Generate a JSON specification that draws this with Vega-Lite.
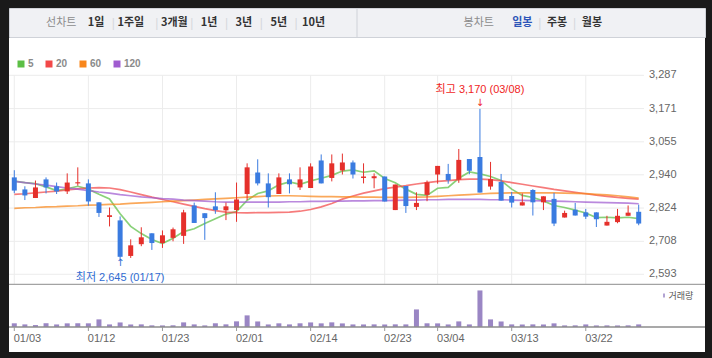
{
  "$schema": "https://vega.github.io/schema/vega-lite/v6.json",
  "background": "#1a1a1a",
  "padding": {"left": 8, "top": 7, "right": 8, "bottom": 8},
  "spacing": 0,
  "config": {"view": {"stroke": null}, "scale": {"continuousPadding": 0}},
  "datasets": {
    "days": [
      {"i":0,"d":"01/03","o":2931,"h":2956,"l":2876,"c":2885,"v":148000,"ma5":2918,"ma20":2872,"ma60":2823,"ma120":2917},
      {"i":1,"d":"01/04","o":2889,"h":2900,"l":2852,"c":2868,"v":104000,"ma5":2913,"ma20":2874,"ma60":2825,"ma120":2913},
      {"i":2,"d":"01/05","o":2859,"h":2920,"l":2859,"c":2896,"v":78000,"ma5":2909,"ma20":2877,"ma60":2826,"ma120":2908},
      {"i":3,"d":"01/08","o":2924,"h":2931,"l":2875,"c":2896,"v":151000,"ma5":2898,"ma20":2880,"ma60":2828,"ma120":2904},
      {"i":4,"d":"01/09","o":2900,"h":2913,"l":2873,"c":2882,"v":102000,"ma5":2885,"ma20":2883,"ma60":2829,"ma120":2899},
      {"i":5,"d":"01/10","o":2882,"h":2945,"l":2873,"c":2913,"v":146000,"ma5":2891,"ma20":2887,"ma60":2831,"ma120":2894},
      {"i":6,"d":"01/11","o":2910,"h":2966,"l":2902,"c":2914,"v":150000,"ma5":2900,"ma20":2891,"ma60":2832,"ma120":2890},
      {"i":7,"d":"01/12","o":2910,"h":2924,"l":2832,"c":2847,"v":147000,"ma5":2890,"ma20":2894,"ma60":2834,"ma120":2885},
      {"i":8,"d":"01/15","o":2844,"h":2844,"l":2793,"c":2807,"v":305000,"ma5":2872,"ma20":2895,"ma60":2835,"ma120":2880},
      {"i":9,"d":"01/16","o":2793,"h":2826,"l":2760,"c":2799,"v":103000,"ma5":2856,"ma20":2894,"ma60":2837,"ma120":2876},
      {"i":10,"d":"01/17","o":2781,"h":2795,"l":2645,"c":2654,"v":182000,"ma5":2804,"ma20":2888,"ma60":2838,"ma120":2871},
      {"i":11,"d":"01/18","o":2657,"h":2715,"l":2650,"c":2694,"v":101000,"ma5":2760,"ma20":2880,"ma60":2840,"ma120":2867},
      {"i":12,"d":"01/19","o":2698,"h":2757,"l":2691,"c":2722,"v":105000,"ma5":2735,"ma20":2871,"ma60":2842,"ma120":2863},
      {"i":13,"d":"01/22","o":2736,"h":2736,"l":2678,"c":2702,"v":66000,"ma5":2714,"ma20":2862,"ma60":2844,"ma120":2860},
      {"i":14,"d":"01/23","o":2702,"h":2746,"l":2685,"c":2729,"v":63000,"ma5":2700,"ma20":2854,"ma60":2846,"ma120":2857},
      {"i":15,"d":"01/24","o":2720,"h":2756,"l":2708,"c":2750,"v":68000,"ma5":2719,"ma20":2846,"ma60":2848,"ma120":2855},
      {"i":16,"d":"01/25","o":2727,"h":2818,"l":2699,"c":2809,"v":185000,"ma5":2742,"ma20":2838,"ma60":2850,"ma120":2852},
      {"i":17,"d":"01/26","o":2833,"h":2843,"l":2772,"c":2772,"v":104000,"ma5":2752,"ma20":2830,"ma60":2852,"ma120":2850},
      {"i":18,"d":"01/29","o":2806,"h":2806,"l":2713,"c":2789,"v":64000,"ma5":2770,"ma20":2822,"ma60":2854,"ma120":2848},
      {"i":19,"d":"01/30","o":2830,"h":2879,"l":2804,"c":2817,"v":149000,"ma5":2787,"ma20":2815,"ma60":2856,"ma120":2846},
      {"i":20,"d":"01/31","o":2816,"h":2843,"l":2782,"c":2830,"v":106000,"ma5":2803,"ma20":2810,"ma60":2858,"ma120":2845},
      {"i":21,"d":"02/01","o":2817,"h":2913,"l":2776,"c":2854,"v":226000,"ma5":2812,"ma20":2808,"ma60":2860,"ma120":2845},
      {"i":22,"d":"02/02","o":2873,"h":2980,"l":2852,"c":2966,"v":465000,"ma5":2851,"ma20":2807,"ma60":2862,"ma120":2845},
      {"i":23,"d":"02/05","o":2948,"h":2994,"l":2903,"c":2910,"v":222000,"ma5":2875,"ma20":2808,"ma60":2864,"ma120":2845},
      {"i":24,"d":"02/06","o":2910,"h":2945,"l":2826,"c":2862,"v":102000,"ma5":2884,"ma20":2808,"ma60":2866,"ma120":2845},
      {"i":25,"d":"02/07","o":2873,"h":2945,"l":2873,"c":2931,"v":147000,"ma5":2905,"ma20":2809,"ma60":2867,"ma120":2845},
      {"i":26,"d":"02/08","o":2924,"h":2945,"l":2875,"c":2907,"v":104000,"ma5":2915,"ma20":2810,"ma60":2867,"ma120":2846},
      {"i":27,"d":"02/13","o":2896,"h":2966,"l":2887,"c":2924,"v":148000,"ma5":2907,"ma20":2813,"ma60":2866,"ma120":2846},
      {"i":28,"d":"02/14","o":2894,"h":2980,"l":2894,"c":2969,"v":183000,"ma5":2919,"ma20":2819,"ma60":2865,"ma120":2847},
      {"i":29,"d":"02/15","o":2990,"h":3011,"l":2910,"c":2910,"v":146000,"ma5":2928,"ma20":2828,"ma60":2864,"ma120":2847},
      {"i":30,"d":"02/16","o":2929,"h":3011,"l":2917,"c":2980,"v":186000,"ma5":2938,"ma20":2840,"ma60":2864,"ma120":2848},
      {"i":31,"d":"02/19","o":2955,"h":3014,"l":2941,"c":2983,"v":144000,"ma5":2953,"ma20":2855,"ma60":2863,"ma120":2848},
      {"i":32,"d":"02/20","o":2983,"h":2990,"l":2927,"c":2941,"v":103000,"ma5":2957,"ma20":2866,"ma60":2863,"ma120":2849},
      {"i":33,"d":"02/21","o":2929,"h":2980,"l":2910,"c":2934,"v":102000,"ma5":2949,"ma20":2876,"ma60":2862,"ma120":2849},
      {"i":34,"d":"02/22","o":2928,"h":2945,"l":2893,"c":2935,"v":105000,"ma5":2954,"ma20":2884,"ma60":2862,"ma120":2850},
      {"i":35,"d":"02/23","o":2934,"h":2934,"l":2847,"c":2847,"v":101000,"ma5":2927,"ma20":2892,"ma60":2861,"ma120":2850},
      {"i":36,"d":"02/26","o":2817,"h":2906,"l":2817,"c":2906,"v":106000,"ma5":2912,"ma20":2897,"ma60":2861,"ma120":2851},
      {"i":37,"d":"02/27","o":2901,"h":2901,"l":2807,"c":2831,"v":104000,"ma5":2890,"ma20":2902,"ma60":2861,"ma120":2852},
      {"i":38,"d":"02/28","o":2828,"h":2879,"l":2817,"c":2842,"v":703000,"ma5":2872,"ma20":2908,"ma60":2862,"ma120":2852},
      {"i":39,"d":"02/29","o":2870,"h":2920,"l":2848,"c":2914,"v":148000,"ma5":2868,"ma20":2913,"ma60":2863,"ma120":2853},
      {"i":40,"d":"03/04","o":2941,"h":2971,"l":2909,"c":2971,"v":145000,"ma5":2893,"ma20":2917,"ma60":2865,"ma120":2853},
      {"i":41,"d":"03/05","o":2943,"h":2978,"l":2909,"c":2921,"v":102000,"ma5":2896,"ma20":2920,"ma60":2867,"ma120":2854},
      {"i":42,"d":"03/06","o":2923,"h":3030,"l":2912,"c":2992,"v":224000,"ma5":2928,"ma20":2923,"ma60":2869,"ma120":2854},
      {"i":43,"d":"03/07","o":2995,"h":2995,"l":2942,"c":2954,"v":103000,"ma5":2950,"ma20":2925,"ma60":2871,"ma120":2854},
      {"i":44,"d":"03/08","o":3002,"h":3170,"l":2878,"c":2878,"v":1462000,"ma5":2943,"ma20":2925,"ma60":2873,"ma120":2854},
      {"i":45,"d":"03/11","o":2899,"h":2985,"l":2888,"c":2925,"v":304000,"ma5":2934,"ma20":2923,"ma60":2875,"ma120":2853},
      {"i":46,"d":"03/12","o":2915,"h":2943,"l":2850,"c":2850,"v":221000,"ma5":2920,"ma20":2919,"ma60":2876,"ma120":2853},
      {"i":47,"d":"03/13","o":2866,"h":2880,"l":2826,"c":2843,"v":104000,"ma5":2890,"ma20":2913,"ma60":2877,"ma120":2852},
      {"i":48,"d":"03/14","o":2833,"h":2875,"l":2833,"c":2844,"v":102000,"ma5":2868,"ma20":2907,"ma60":2877,"ma120":2851},
      {"i":49,"d":"03/15","o":2887,"h":2890,"l":2798,"c":2844,"v":105000,"ma5":2861,"ma20":2901,"ma60":2877,"ma120":2850},
      {"i":50,"d":"03/18","o":2844,"h":2865,"l":2817,"c":2865,"v":101000,"ma5":2849,"ma20":2895,"ma60":2877,"ma120":2849},
      {"i":51,"d":"03/19","o":2856,"h":2877,"l":2761,"c":2770,"v":146000,"ma5":2833,"ma20":2889,"ma60":2877,"ma120":2848},
      {"i":52,"d":"03/20","o":2791,"h":2815,"l":2791,"c":2807,"v":64000,"ma5":2826,"ma20":2884,"ma60":2876,"ma120":2847},
      {"i":53,"d":"03/21","o":2818,"h":2842,"l":2798,"c":2798,"v":66000,"ma5":2817,"ma20":2879,"ma60":2875,"ma120":2846},
      {"i":54,"d":"03/22","o":2809,"h":2821,"l":2786,"c":2794,"v":103000,"ma5":2807,"ma20":2874,"ma60":2874,"ma120":2845},
      {"i":55,"d":"03/25","o":2809,"h":2809,"l":2758,"c":2785,"v":63000,"ma5":2791,"ma20":2869,"ma60":2872,"ma120":2844},
      {"i":56,"d":"03/26","o":2763,"h":2797,"l":2763,"c":2776,"v":65000,"ma5":2792,"ma20":2865,"ma60":2870,"ma120":2843},
      {"i":57,"d":"03/27","o":2775,"h":2821,"l":2771,"c":2797,"v":62000,"ma5":2790,"ma20":2861,"ma60":2867,"ma120":2842},
      {"i":58,"d":"03/28","o":2797,"h":2833,"l":2797,"c":2808,"v":66000,"ma5":2792,"ma20":2858,"ma60":2863,"ma120":2841},
      {"i":59,"d":"03/29","o":2811,"h":2836,"l":2764,"c":2770,"v":104000,"ma5":2787,"ma20":2855,"ma60":2859,"ma120":2839}
    ],
    "levels": [{"p":2593},{"p":2708},{"p":2824},{"p":2940},{"p":3055},{"p":3171},{"p":3287}],
    "notes": [
      {"i":44,"p":3170,"label":"최고 3,170 (03/08)","kind":"hi"},
      {"i":10,"p":2645,"label":"최저 2,645 (01/17)","kind":"lo"}
    ],
    "tools": [
      {"k":"선차트","t":"선차트","s":"muted"},
      {"k":"1일","t":"1일","s":"bold"},
      {"k":"s1","t":"|","s":"sep"},
      {"k":"1주일","t":"1주일","s":"bold"},
      {"k":"s2","t":"|","s":"sep"},
      {"k":"3개월","t":"3개월","s":"bold"},
      {"k":"s3","t":"|","s":"sep"},
      {"k":"1년","t":"1년","s":"bold"},
      {"k":"s4","t":"|","s":"sep"},
      {"k":"3년","t":"3년","s":"bold"},
      {"k":"s5","t":"|","s":"sep"},
      {"k":"5년","t":"5년","s":"bold"},
      {"k":"s6","t":"|","s":"sep"},
      {"k":"10년","t":"10년","s":"bold"},
      {"k":"div","t":"","s":"div"},
      {"k":"봉차트","t":"봉차트","s":"muted"},
      {"k":"일봉","t":"일봉","s":"sel"},
      {"k":"s7","t":"|","s":"sep"},
      {"k":"주봉","t":"주봉","s":"bold"},
      {"k":"s8","t":"|","s":"sep"},
      {"k":"월봉","t":"월봉","s":"bold"}
    ]
  },
  "vconcat": [
    {
      "width": 696,
      "height": 29,
      "view": {"fill": "#f0f1f4", "stroke": "#cfd2d8"},
      "data": {"name": "tools"},
      "encoding": {
        "x": {"field": "k", "type": "nominal", "axis": null,
          "scale": {"type": "point", "padding": 0, "domain": ["_0","_1","_2","_3","_4","_5","선차트","_7","_8","_9","1일","_11","s1","_13","1주일","_15","_16","s2","_18","3개월","_20","s3","_22","1년","_24","s4","_26","3년","_28","s5","_30","5년","_32","s6","_34","10년","_36","_37","_38","_39","div","_41","_42","_43","_44","_45","_46","_47","_48","_49","_50","_51","_52","_53","봉차트","_55","_56","_57","_58","일봉","_60","s7","_62","주봉","_64","s8","_66","월봉","_68","_69","_70","_71","_72","_73","_74","_75","_76","_77","_78","_79","_80"]}}
      },
      "layer": [
        {"transform": [{"filter": "datum.s === 'div'"}], "mark": {"type": "rule", "color": "#cfd2d8", "strokeWidth": 1}},
        {"transform": [{"filter": "datum.s === 'sep'"}], "mark": {"type": "text", "font": "Liberation Sans", "fontSize": 12, "color": "#d6d8dc"}, "encoding": {"text": {"field": "t"}}},
        {"transform": [{"filter": "datum.s === 'muted'"}], "mark": {"type": "text", "font": "Noto Sans CJK KR", "fontSize": 11, "color": "#8c8c8c"}, "encoding": {"text": {"field": "t"}}},
        {"transform": [{"filter": "datum.s === 'bold'"}], "mark": {"type": "text", "font": "Noto Sans CJK KR", "fontSize": 11, "fontWeight": "bold", "color": "#333333"}, "encoding": {"text": {"field": "t"}}},
        {"transform": [{"filter": "datum.s === 'sel'"}], "mark": {"type": "text", "font": "Noto Sans CJK KR", "fontSize": 11, "fontWeight": "bold", "color": "#2d55b8"}, "encoding": {"text": {"field": "t"}}}
      ]
    },
    {
      "width": 696,
      "height": 314,
      "view": {"fill": "white", "stroke": null},
      "resolve": {"scale": {"y": "independent"}},
      "layer": [
        {
          "layer": [
            {
              "data": {"name": "levels"},
              "mark": {"type": "rule", "color": "#ececec", "strokeWidth": 1},
              "encoding": {
                "x": {"datum": -0.5, "type": "quantitative", "scale": {"domain": [-0.5, 65.265], "nice": false, "zero": false, "padding": 0}, "axis": null},
                "x2": {"datum": 59.5},
                "y": {"field": "p", "type": "quantitative", "scale": {"domain": [2322, 3417.1], "nice": false, "zero": false, "padding": 0}, "axis": null}
              }
            },
            {
              "data": {"name": "levels"},
              "mark": {"type": "text", "font": "Liberation Sans", "fontSize": 11, "color": "#666666", "align": "left", "baseline": "middle", "dx": 5},
              "encoding": {
                "x": {"datum": 59.5, "type": "quantitative", "scale": {"domain": [-0.5, 65.265], "nice": false, "zero": false, "padding": 0}, "axis": null},
                "y": {"field": "p", "type": "quantitative", "scale": {"domain": [2322, 3417.1], "nice": false, "zero": false, "padding": 0}, "axis": null},
                "text": {"field": "p", "type": "quantitative", "format": ","}
              }
            },
            {
              "data": {"name": "days"},
              "transform": [{"filter": {"field": "d", "oneOf": ["01/03","01/12","01/23","02/01","02/14","02/23","03/04","03/13","03/22"]}}],
              "mark": {"type": "rule", "color": "#ececec", "strokeWidth": 1},
              "encoding": {
                "x": {"field": "i", "type": "quantitative", "scale": {"domain": [-0.5, 65.265], "nice": false, "zero": false, "padding": 0}, "axis": null},
                "y": {"datum": 3287, "type": "quantitative", "scale": {"domain": [2322, 3417.1], "nice": false, "zero": false, "padding": 0}, "axis": null},
                "y2": {"datum": 2558.1}
              }
            },
            {
              "data": {"name": "levels"},
              "transform": [{"filter": "datum.p === 2593"}],
              "mark": {"type": "rule", "color": "#a3a3a3", "strokeWidth": 1.3},
              "encoding": {
                "y": {"datum": 2558.1, "type": "quantitative", "scale": {"domain": [2322, 3417.1], "nice": false, "zero": false, "padding": 0}, "axis": null}
              }
            },
            {
              "data": {"name": "days"},
              "transform": [{"fold": ["ma5","ma20","ma60","ma120"], "as": ["key","val"]}],
              "mark": {"type": "line", "strokeWidth": 1.7, "opacity": 0.72},
              "encoding": {
                "x": {"field": "i", "type": "quantitative", "scale": {"domain": [-0.5, 65.265], "nice": false, "zero": false, "padding": 0}, "axis": null},
                "y": {"field": "val", "type": "quantitative", "scale": {"domain": [2322, 3417.1], "nice": false, "zero": false, "padding": 0}, "axis": null},
                "color": {"field": "key", "type": "nominal",
                  "scale": {"domain": ["ma5","ma20","ma60","ma120"], "range": ["#5cbf45","#f24848","#f8861b","#a05cd0"]},
                  "legend": {"orient": "none", "legendX": 7, "legendY": 51, "direction": "horizontal", "title": null,
                    "symbolType": "square", "symbolSize": 49, "symbolStrokeWidth": 0, "symbolOpacity": 1,
                    "labelExpr": "replace(datum.label, 'ma', '')", "labelFont": "Liberation Sans", "labelFontSize": 10, "labelFontWeight": "bold", "labelColor": "#8a8a8a", "labelOffset": 2, "columnPadding": 10,
                    "encode": {"symbols": {"update": {"fill": {"scale": "color", "field": "value"}, "fillOpacity": {"value": 1}, "opacity": {"value": 1}, "strokeWidth": {"value": 0}}}}}}
              }
            },
            {
              "data": {"name": "days"},
              "mark": {"type": "rule", "strokeWidth": 1},
              "encoding": {
                "x": {"field": "i", "type": "quantitative", "scale": {"domain": [-0.5, 65.265], "nice": false, "zero": false, "padding": 0}, "axis": null},
                "y": {"field": "l", "type": "quantitative", "scale": {"domain": [2322, 3417.1], "nice": false, "zero": false, "padding": 0}, "axis": null},
                "y2": {"field": "h"},
                "color": {"condition": {"test": "datum.c >= datum.o", "value": "#e5302b"}, "value": "#3a7be0"}
              }
            },
            {
              "data": {"name": "days"},
              "mark": {"type": "bar", "width": 5},
              "encoding": {
                "x": {"field": "i", "type": "quantitative", "scale": {"domain": [-0.5, 65.265], "nice": false, "zero": false, "padding": 0}, "axis": null},
                "y": {"field": "o", "type": "quantitative", "scale": {"domain": [2322, 3417.1], "nice": false, "zero": false, "padding": 0}, "axis": null},
                "y2": {"field": "c"},
                "color": {"condition": {"test": "datum.c >= datum.o", "value": "#e5302b"}, "value": "#3a7be0"}
              }
            },
            {
              "data": {"name": "notes"},
              "transform": [{"filter": "datum.kind === 'hi'"}],
              "mark": {"type": "text", "font": "Liberation Sans, Noto Sans CJK KR", "fontSize": 11, "color": "#f01e1e", "baseline": "middle", "dy": -19},
              "encoding": {
                "x": {"field": "i", "type": "quantitative", "scale": {"domain": [-0.5, 65.265], "nice": false, "zero": false, "padding": 0}, "axis": null},
                "y": {"field": "p", "type": "quantitative", "scale": {"domain": [2322, 3417.1], "nice": false, "zero": false, "padding": 0}, "axis": null},
                "text": {"field": "label"}
              }
            },
            {
              "data": {"name": "notes"},
              "transform": [{"filter": "datum.kind === 'hi'"}],
              "mark": {"type": "text", "font": "DejaVu Sans", "fontSize": 10, "color": "#f01e1e", "baseline": "middle", "dy": -6},
              "encoding": {
                "x": {"field": "i", "type": "quantitative", "scale": {"domain": [-0.5, 65.265], "nice": false, "zero": false, "padding": 0}, "axis": null},
                "y": {"field": "p", "type": "quantitative", "scale": {"domain": [2322, 3417.1], "nice": false, "zero": false, "padding": 0}, "axis": null},
                "text": {"value": "↓"}
              }
            },
            {
              "data": {"name": "notes"},
              "transform": [{"filter": "datum.kind === 'lo'"}],
              "mark": {"type": "text", "font": "DejaVu Sans", "fontSize": 10, "color": "#2f6bd2", "baseline": "middle", "dy": 4},
              "encoding": {
                "x": {"field": "i", "type": "quantitative", "scale": {"domain": [-0.5, 65.265], "nice": false, "zero": false, "padding": 0}, "axis": null},
                "y": {"field": "p", "type": "quantitative", "scale": {"domain": [2322, 3417.1], "nice": false, "zero": false, "padding": 0}, "axis": null},
                "text": {"value": "↑"}
              }
            },
            {
              "data": {"name": "notes"},
              "transform": [{"filter": "datum.kind === 'lo'"}],
              "mark": {"type": "text", "font": "Liberation Sans, Noto Sans CJK KR", "fontSize": 11, "color": "#2f6bd2", "baseline": "middle", "dy": 19},
              "encoding": {
                "x": {"field": "i", "type": "quantitative", "scale": {"domain": [-0.5, 65.265], "nice": false, "zero": false, "padding": 0}, "axis": null},
                "y": {"field": "p", "type": "quantitative", "scale": {"domain": [2322, 3417.1], "nice": false, "zero": false, "padding": 0}, "axis": null},
                "text": {"field": "label"}
              }
            }
          ]
        },
        {
          "layer": [
            {
              "data": {"name": "days"},
              "mark": {"type": "bar", "width": 5},
              "encoding": {
                "x": {"field": "i", "type": "quantitative", "scale": {"domain": [-0.5, 65.265], "nice": false, "zero": false, "padding": 0}, "axis": null},
                "y": {"field": "v", "type": "quantitative", "scale": {"domain": [-1000000, 11560000], "nice": false, "zero": false, "padding": 0}, "axis": null},
                "y2": {"datum": 0},
                "fill": {"datum": "거래량", "type": "nominal", "scale": {"range": ["#9a86c4"]},
                  "legend": {"orient": "none", "legendX": 650.5, "legendY": 283, "title": null,
                    "symbolType": "M-0.19,-0.5H0.19V0.5H-0.19Z", "symbolSize": 64, "symbolStrokeWidth": 0,
                    "labelFont": "Noto Sans CJK KR", "labelFontSize": 9, "labelColor": "#555555", "labelOffset": 0}}
              }
            },
            {
              "data": {"name": "levels"},
              "transform": [{"filter": "datum.p === 2593"}],
              "mark": {"type": "rule", "color": "#8c8c8c", "strokeWidth": 1.3},
              "encoding": {
                "y": {"datum": 0, "type": "quantitative", "scale": {"domain": [-1000000, 11560000], "nice": false, "zero": false, "padding": 0}, "axis": null}
              }
            },
            {
              "data": {"name": "days"},
              "transform": [{"filter": {"field": "d", "oneOf": ["01/03","01/12","01/23","02/01","02/14","02/23","03/04","03/13","03/22"]}}],
              "mark": {"type": "rule", "color": "#9a9a9a", "strokeWidth": 1},
              "encoding": {
                "x": {"field": "i", "type": "quantitative", "scale": {"domain": [-0.5, 65.265], "nice": false, "zero": false, "padding": 0}, "axis": null},
                "y": {"datum": 0, "type": "quantitative", "scale": {"domain": [-1000000, 11560000], "nice": false, "zero": false, "padding": 0}, "axis": null},
                "y2": {"datum": -160000}
              }
            },
            {
              "data": {"name": "days"},
              "transform": [{"filter": {"field": "d", "oneOf": ["01/03","01/12","01/23","02/01","02/14","02/23","03/04","03/13","03/22"]}}],
              "mark": {"type": "text", "font": "Liberation Sans", "fontSize": 11, "color": "#666666", "align": "left", "baseline": "middle", "dx": -0.6, "dy": 12},
              "encoding": {
                "x": {"field": "i", "type": "quantitative", "scale": {"domain": [-0.5, 65.265], "nice": false, "zero": false, "padding": 0}, "axis": null},
                "y": {"datum": 0, "type": "quantitative", "scale": {"domain": [-1000000, 11560000], "nice": false, "zero": false, "padding": 0}, "axis": null},
                "text": {"field": "d"}
              }
            }
          ]
        }
      ]
    }
  ]
}
